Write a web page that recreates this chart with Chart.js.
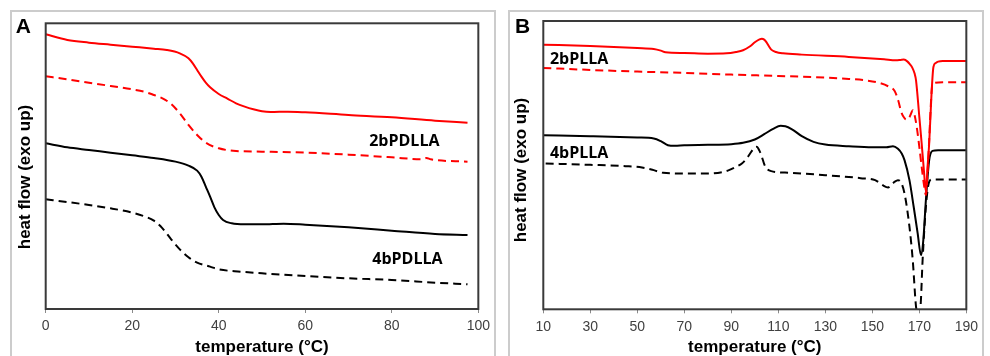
<!DOCTYPE html>
<html><head><meta charset="utf-8">
<script src="https://cdn.jsdelivr.net/npm/chart.js@4.4.1/dist/chart.umd.min.js"></script>
<style>
html,body{margin:0;padding:0;background:#fff;width:990px;height:356px;overflow:hidden;}
.frame{position:absolute;border:2px solid #cccccc;box-sizing:border-box;}
canvas{position:absolute;}
</style></head><body>
<div class="frame" style="left:10px;top:10px;width:486px;height:400px;"></div>
<div class="frame" style="left:508px;top:10px;width:476px;height:400px;"></div>
<canvas id="cA" width="484" height="360" style="left:11px;top:11px;"></canvas>
<canvas id="cB" width="474" height="360" style="left:509px;top:11px;"></canvas>
<script>
// ---------- Panel A (PDLLA) : temperature (°C) and heat flow (arbitrary units, exo up)
const ticksA = [0, 20, 40, 60, 80, 100];
const tA_2b_solid = [0,5,10,15,20,25,28,31,33,34,35,36,37,38,40,42,44,46,48,50,52,56,60,70,80,90,97.5];
const hA_2b_solid = [89.7,88,87.2,86.6,86,85.4,85,84,82.5,81,79,77,75.2,73.8,71.8,70.4,69,68,67.2,66.6,66.4,66.5,66.3,65.5,64.8,63.8,63.2];
const tA_2b_dash = [0,5,10,15,20,23,25,27,29,31,33,35,37,40,44,50,60,70,80,87,88,89,97.5];
const hA_2b_dash = [77.1,76.2,75.2,74.2,73.2,72.4,71.5,70.5,68.8,66,62.5,59.5,57.2,55.5,54.7,54.5,54.2,53.6,52.8,52.2,52.6,52.2,51.5];
const tA_4b_solid = [0,5,10,15,20,25,30,33,35,36,37,38,39,40,41,43,46,50,55,60,70,80,90,97.5];
const hA_4b_solid = [57,55.8,55,54.2,53.4,52.6,51.5,50.3,48.8,47,44,41,37.8,35.5,34,33,32.7,32.7,32.9,32.6,31.8,30.8,29.8,29.5];
const tA_4b_dash = [0,5,10,15,20,23,25,27,29,31,33,35,38,40,45,50,60,70,80,90,97.5];
const hA_4b_dash = [40.2,39.4,38.5,37.5,36.2,35,33.8,31.5,28.2,25.2,22.8,21.2,20,19.2,18.5,18,17.2,16.5,16,15.2,14.7];
const labelsA = ["2bPDLLA", "4bPDLLA"];

// ---------- Panel B (PLLA)
const ticksB = [10, 30, 50, 70, 90, 110, 130, 150, 170, 190];
const tB_2b_solid = [10,30,50,57,60,62,70,80,88,92,95,98,100,102,103,104,105,106,107,109,112,120,140,155,160,162,163.4,165,166,167,168,168.6,170,171,172,172.8,173.5,174.2,175.2,176,177,178,180,190];
const hB_2b_solid = [86.7,86.3,85.7,85.4,84.9,84.4,84.2,84,84.1,84.5,85,86.2,87.4,88.3,88.5,88.2,87.4,86.2,85.2,84.5,84.1,83.7,83,82.3,82,82.1,82.2,81.6,80.8,79.8,78,76,65,57,48.5,42.5,50,57,72,80,81.2,81.6,81.8,81.8];
const tB_2b_dash = [10,30,50,70,90,110,130,140,148,153,156.7,159.5,161,162.3,163.5,164.4,165.5,166.5,167.2,168,169,170,171,172,172.8,173.5,174.2,175,175.5,176.5,180,190];
const hB_2b_dash = [79.7,79.1,78.6,78.2,77.7,77.3,76.8,76.4,75.9,75.2,74.2,72.8,70,66.5,64.8,64.2,64.5,66,67,65.5,61.5,56,50,44.5,41.5,48,58,70,74.5,75.2,75.4,75.4];
const tB_4b_solid = [10,30,50,57,60,63,66,70,80,90,95,100,104,108,111,113,116,120,125,130,140,150,156,158.8,160.9,162.5,163.7,165.8,167.6,169.3,170.7,171.7,172.8,174.2,175.6,178,190];
const hB_4b_solid = [59.5,59.2,58.8,58.5,57.7,56.5,56.3,56.5,56.6,56.8,57.2,58.2,59.8,61.5,62.3,62.2,61.2,59.2,57.5,56.7,56.2,55.9,55.9,56.2,55.4,54,52,46,38,30,23.5,28,40,52,54.8,55,55];
const tB_4b_dash = [11,30,45,52,57,61,70,80,86,89,92,94.5,96.5,98,99.5,100.8,102,103,104,105,107,115,130,145,151.2,154.4,156.7,158,159.5,160.9,162.3,163.7,165.8,167.2,168.6,169.5,170.5,171.4,172.8,174.2,175.5,190];
const hB_4b_dash = [51,50.6,50.2,49.8,49,48.2,48,48,48.4,49,50,51,52.5,54,55.5,56,54.8,53,50.8,49.5,48.7,48.2,47.5,46.6,46,44.5,43.8,44.5,45.5,46,45.2,42,32,22,8,5.5,8,22,38,45.5,46.2,46.2];
const labelsB = ["2bPLLA", "4bPLLA"];

const pts = (xs, ys) => xs.map((x, i) => ({x: x, y: ys[i]}));
const ds = (xs, ys, color, dashed) => ({
  data: pts(xs, ys), borderColor: color, borderWidth: 2, pointRadius: 0,
  borderDash: dashed ? [8, 5] : [], fill: false, cubicInterpolationMode: 'monotone'
});

const framePlugin = {
  id: 'frameText',
  afterDraw(chart, args, opts) {
    const {ctx, chartArea: a, scales} = chart;
    ctx.save();
    ctx.strokeStyle = '#3a3a3a'; ctx.lineWidth = 2; ctx.setLineDash([]);
    ctx.strokeRect(a.left, a.top, a.right - a.left, a.bottom - a.top);
    ctx.fillStyle = '#000';
    ctx.font = 'bold 21px "Liberation Sans", Arial, sans-serif';
    ctx.textBaseline = 'alphabetic'; ctx.textAlign = 'left';
    ctx.fillText(opts.letter, opts.letterX, opts.letterY);
    // y-axis title
    ctx.save();
    ctx.translate(opts.yTitleX, opts.yTitleY);
    ctx.rotate(-Math.PI / 2);
    ctx.font = 'bold 17px "Liberation Sans", Arial, sans-serif';
    ctx.textAlign = 'center'; ctx.textBaseline = 'middle';
    ctx.fillText('heat flow (exo up)', 0, 0);
    ctx.restore();
    ctx.font = 'bold 16px "Open Sans", "Liberation Sans", sans-serif';
    ctx.textBaseline = 'middle';
    opts.labels.forEach(l => {
      ctx.textAlign = l.align;
      ctx.fillText(l.text, scales.x.getPixelForValue(l.x), scales.y.getPixelForValue(l.y));
    });
    ctx.restore();
  }
};

function makeChart(id, datasets, ticks, yMin, yMax, geom, extra) {
  return new Chart(document.getElementById(id), {
    type: 'line',
    data: {datasets: datasets},
    plugins: [framePlugin],
    options: {
      responsive: false, animation: false, devicePixelRatio: 1,
      layout: {padding: {left: 0, top: geom.top, right: geom.right, bottom: 0}},
      plugins: {legend: {display: false}, tooltip: {enabled: false}, frameText: extra},
      scales: {
        x: {
          type: 'linear', min: ticks[0], max: ticks[ticks.length - 1],
          afterBuildTicks: s => { s.ticks = ticks.map(v => ({value: v})); },
          afterFit: s => { s.height = geom.xh; },
          grid: {display: true, drawOnChartArea: false, drawTicks: true, tickLength: 4, color: '#8a8a8a'},
          border: {display: false},
          ticks: {autoSkip: false, maxRotation: 0, padding: 5, color: '#404040',
                  font: {family: '"Liberation Sans", Arial, sans-serif', size: 14}},
          title: {display: true, text: 'temperature (°C)', color: '#000',
                  padding: {top: 0, bottom: 13.8},
                  font: {family: '"Liberation Sans", Arial, sans-serif', size: 17, weight: 'bold'}}
        },
        y: {
          type: 'linear', min: yMin, max: yMax,
          afterFit: s => { s.width = geom.yw; },
          grid: {display: false}, border: {display: false},
          ticks: {display: false},
          title: {display: false}
        }
      }
    }
  });
}

makeChart('cA', [
  ds(tA_2b_solid, hA_2b_solid, '#ff0000', false),
  ds(tA_2b_dash, hA_2b_dash, '#ff0000', true),
  ds(tA_4b_solid, hA_4b_solid, '#000000', false),
  ds(tA_4b_dash, hA_4b_dash, '#000000', true)
], ticksA, 7.3, 93, {top: 12.3, right: 16, xh: 62, yw: 34.7},
{letter: 'A', letterX: 4.7, letterY: 22.3, yTitleX: 14, yTitleY: 166,
 labels: [{text: labelsA[0], x: 82.9, y: 57.5, align: 'center'},
          {text: labelsA[1], x: 83.6, y: 22.3, align: 'center'}]});

makeChart('cB', [
  ds(tB_2b_solid, hB_2b_solid, '#ff0000', false),
  ds(tB_2b_dash, hB_2b_dash, '#ff0000', true),
  ds(tB_4b_solid, hB_4b_solid, '#000000', false),
  ds(tB_4b_dash, hB_4b_dash, '#000000', true)
], ticksB, 7.2, 93.8, {top: 10, right: 10.5, xh: 61.7, yw: 34.3},
{letter: 'B', letterX: 6, letterY: 22, yTitleX: 12.7, yTitleY: 159,
 labels: [{text: labelsB[0], x: 12.8, y: 82.3, align: 'left'},
          {text: labelsB[1], x: 12.8, y: 54.1, align: 'left'}]});
</script>
</body></html>
